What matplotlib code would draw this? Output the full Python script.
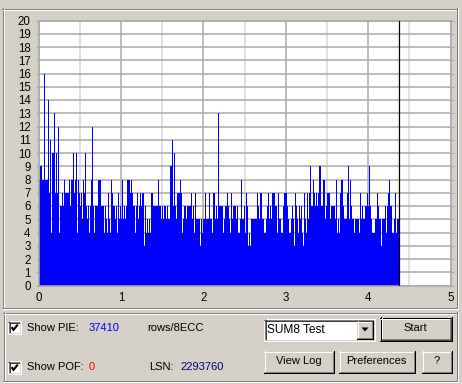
import numpy as np
import matplotlib
matplotlib.use("Agg")
import matplotlib.pyplot as plt
from matplotlib.patches import Rectangle, Polygon

# ---------------- data (PIE errors per sample) ----------------
pie_values = [
    15, 8, 9, 9, 8, 8, 16, 8, 8, 8, 14, 7, 11, 4, 10, 10, 13, 7, 10, 7,
    12, 4, 6, 6, 7, 6, 8, 7, 7, 7, 7, 8, 6, 8, 8, 10, 7, 8, 10, 4,
    8, 7, 6, 7, 5, 8, 7, 10, 6, 5, 6, 4, 6, 8, 12, 6, 4, 6, 6, 6,
    8, 8, 8, 6, 6, 6, 4, 6, 5, 4, 7, 5, 4, 8, 7, 6, 6, 5, 6, 4,
    7, 5, 6, 5, 8, 5, 6, 5, 6, 8, 8, 8, 7, 8, 7, 6, 6, 4, 6, 7,
    5, 6, 7, 6, 7, 7, 3, 6, 4, 5, 4, 5, 4, 7, 7, 6, 6, 6, 6, 6,
    8, 6, 6, 5, 6, 5, 6, 6, 5, 6, 5, 5, 9, 9, 11, 6, 10, 6, 5, 7,
    7, 7, 8, 7, 4, 5, 6, 6, 5, 6, 6, 6, 6, 7, 5, 6, 4, 7, 5, 5,
    5, 5, 3, 5, 4, 5, 5, 7, 5, 5, 5, 7, 5, 5, 4, 7, 7, 5, 6, 5,
    13, 6, 6, 6, 6, 4, 5, 6, 6, 7, 6, 5, 4, 7, 5, 6, 6, 6, 5, 6,
    4, 4, 5, 8, 5, 5, 6, 4, 7, 6, 3, 4, 3, 5, 5, 5, 5, 5, 5, 7,
    6, 5, 7, 7, 5, 5, 4, 4, 5, 6, 7, 5, 6, 5, 7, 7, 7, 6, 6, 4,
    7, 5, 5, 4, 4, 6, 7, 7, 7, 6, 5, 4, 4, 5, 6, 5, 3, 7, 6, 5,
    4, 6, 5, 6, 4, 3, 7, 5, 4, 7, 5, 7, 9, 6, 6, 8, 7, 6, 7, 6,
    7, 9, 9, 6, 6, 8, 8, 5, 6, 7, 7, 7, 5, 6, 6, 6, 6, 5, 8, 4,
    5, 4, 7, 8, 8, 6, 5, 5, 5, 7, 9, 5, 8, 6, 5, 5, 4, 5, 5, 5,
    5, 4, 7, 5, 6, 5, 5, 6, 6, 7, 6, 9, 6, 5, 4, 4, 4, 5, 5, 7,
    6, 5, 5, 3, 5, 5, 5, 6, 4, 6, 7, 8, 6, 6, 4, 4, 5, 7, 4, 5,
    5,
]
scan_end_gb = 4.376          # position reached by the scan (black marker)
x_ticks = [0, 1, 2, 3, 4, 5]
x_minor = [0.5, 1.5, 2.5, 3.5, 4.5]
y_ticks = list(range(0, 21))

show_pie_count = "37410"
show_pof_count = "0"
lsn_value = "2293760"
test_name = "SUM8 Test"

# ---------------- figure ----------------
W, H = 462, 384
BG = "#D4D0C8"
DARK = "#808080"
DARKER = "#404040"
FONT = "Liberation Sans"
plt.rcParams["font.family"] = [FONT, "DejaVu Sans"]

fig = plt.figure(figsize=(W / 100, H / 100), dpi=100, facecolor=BG)

ui = fig.add_axes([0, 0, 1, 1])
ui.set_xlim(0, W)
ui.set_ylim(H, 0)
ui.axis("off")
ui.set_facecolor(BG)

LW = 0.72  # one pixel at 100 dpi


def hline(x0, x1, y, c):
    ui.plot([x0, x1 + 1], [y + 0.5, y + 0.5], color=c, lw=LW,
            antialiased=False, solid_capstyle="butt")


def vline(x, y0, y1, c):
    ui.plot([x + 0.5, x + 0.5], [y0, y1 + 1], color=c, lw=LW,
            antialiased=False, solid_capstyle="butt")


def fill(x0, y0, x1, y1, c):
    ui.add_patch(Rectangle((x0, y0), x1 - x0 + 1, y1 - y0 + 1,
                           facecolor=c, edgecolor="none", antialiased=False))


def raised(x0, y0, x1, y1, default=False):
    if default:
        hline(x0, x1, y0, "black"); hline(x0, x1, y1, "black")
        vline(x0, y0, y1, "black"); vline(x1, y0, y1, "black")
        x0 += 1; y0 += 1; x1 -= 1; y1 -= 1
    fill(x0, y0, x1, y1, BG)
    hline(x0, x1, y0, "white"); vline(x0, y0, y1, "white")
    hline(x0, x1, y1, "black" if not default else DARKER)
    vline(x1, y0, y1, "black" if not default else DARKER)
    hline(x0 + 1, x1 - 1, y1 - 1, DARK); vline(x1 - 1, y0 + 1, y1 - 1, DARK)


def sunken(x0, y0, x1, y1, inner="white"):
    fill(x0, y0, x1, y1, inner)
    hline(x0, x1, y0, DARK); vline(x0, y0, y1, DARK)
    hline(x0 + 1, x1 - 1, y0 + 1, DARKER); vline(x0 + 1, y0 + 1, y1 - 1, DARKER)
    hline(x0, x1, y1, "white"); vline(x1, y0, y1, "white")
    hline(x0 + 1, x1 - 1, y1 - 1, BG); vline(x1 - 1, y0 + 1, y1 - 1, BG)


def etched(x0, y0, x1, y1):
    hline(x0, x1 - 1, y0, DARK); vline(x0, y0, y1 - 1, DARK)
    hline(x0, x1 - 1, y1 - 1, DARK); vline(x1 - 1, y0, y1 - 1, DARK)
    hline(x0 + 1, x1 - 2, y0 + 1, "white"); vline(x0 + 1, y0 + 1, y1 - 2, "white")
    hline(x0, x1, y1, "white"); vline(x1, y0, y1, "white")


def label(x, y, s, color="black", ha="left", size=8):
    ui.text(x, y, s, color=color, ha=ha, va="center", fontsize=size,
            family=[FONT, "DejaVu Sans"])


def checkbox(x0, y0):
    sunken(x0, y0, x0 + 12, y0 + 12)
    ui.plot([x0 + 3.5, x0 + 5.5, x0 + 9.8], [y0 + 6.2, y0 + 8.7, y0 + 3.6],
            color="black", lw=1.6, solid_capstyle="butt", solid_joinstyle="miter")


# upper chart frame
etched(2, 8, 457, 308)
# lower control group
etched(3, 312, 457, 381)

# controls
checkbox(8, 321)
label(27, 328, "Show PIE:")
label(89, 328, show_pie_count, color="#0000FF")
label(147, 328, "rows/8ECC")

checkbox(8, 361)
label(27, 367.5, "Show POF:")
label(89, 367.5, show_pof_count, color="#FF0000")
label(149, 367.5, "LSN:")
label(180, 367.5, lsn_value, color="#000080")

sunken(264, 319, 374, 340)
label(267, 330, test_name, size=8.6)
raised(357, 321, 372, 338)
ui.add_patch(Polygon([[361.5, 327.5], [368.5, 327.5], [365, 331.5]], closed=True,
                     facecolor="black", edgecolor="none"))

raised(380, 317, 451, 340, default=True)
label(415.5, 328, "Start", ha="center")
raised(264, 351, 333, 372)
label(298.5, 361.5, "View Log", ha="center")
raised(339, 351, 414, 372)
label(376.5, 361.5, "Preferences", ha="center")
raised(422, 351, 451, 372)
label(436.5, 361.5, "?", ha="center")

# ---------------- chart ----------------
x0p, x5p, y0p, y20p = 38.5, 450.5, 285.5, 20.5
ax = fig.add_axes([x0p / W, (H - y0p) / H, (x5p - x0p) / W, (y0p - y20p) / H])
ax.set_facecolor("white")
ax.set_xlim(0, 5)
ax.set_ylim(0, 20)

n = len(pie_values)
edges = np.linspace(0, scan_end_gb, n + 1)
ax.stairs(pie_values, edges, fill=True, color="#0000FF", linewidth=0,
          antialiased=False, zorder=2)
ax.axvline(scan_end_gb, color="black", lw=0.9, zorder=3)

ax.set_xticks(x_ticks)
ax.set_xticks(x_minor, minor=True)
ax.set_yticks(y_ticks)
ax.set_axisbelow(True)
ax.grid(True, which="major", axis="y", color="#A8A8A8", lw=1.1)
ax.grid(True, which="major", axis="x", color="#A8A8A8", lw=1.1)
ax.grid(True, which="minor", axis="x", color="#D8D8D8", lw=1.1)
for s in ax.spines.values():
    s.set_color("#A8A8A8")
    s.set_linewidth(1.1)
ax.tick_params(axis="both", which="both", length=0, labelsize=8.3)
ax.tick_params(axis="y", pad=3.6)
ax.tick_params(axis="x", pad=5)
ax.tick_params(axis="y", which="major", right=True, length=2, color="#A8A8A8",
               direction="out", labelright=False)
for t in ax.get_xticklabels() + ax.get_yticklabels():
    t.set_family([FONT, "DejaVu Sans"])

fig.savefig("out.png", dpi=100, facecolor=BG)
